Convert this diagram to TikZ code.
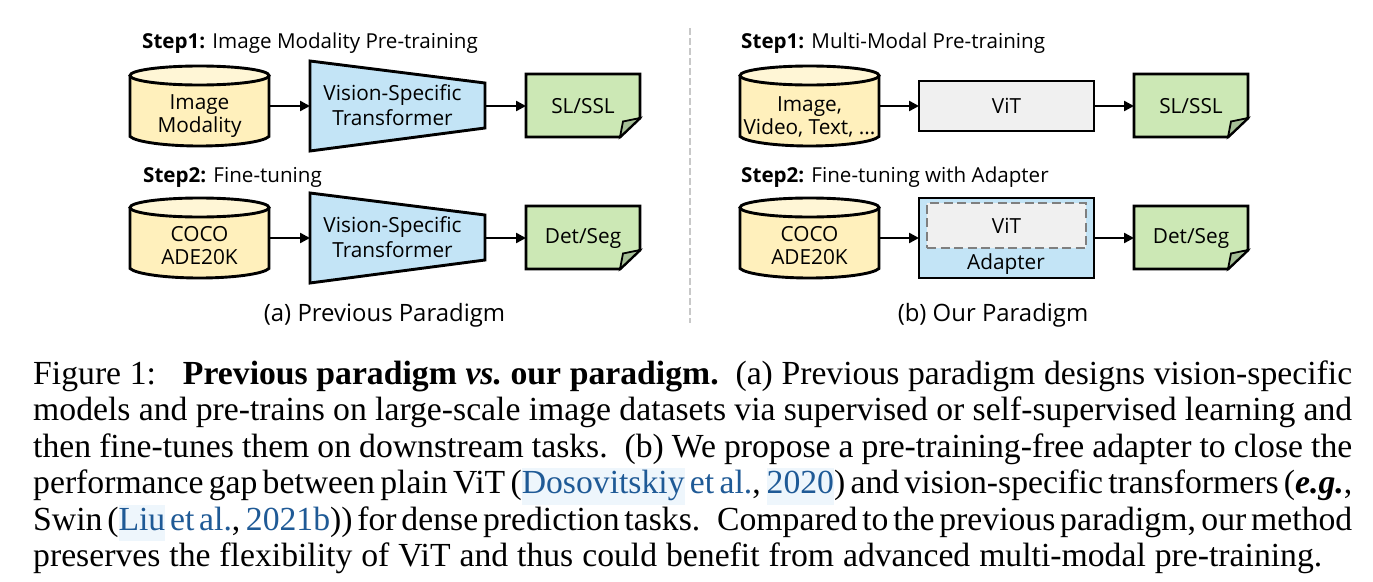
\documentclass[tikz,border=0pt]{standalone}
\usepackage{fontspec}
\setmainfont{Liberation Serif}
\newfontfamily\diag{Open Sans}
\usetikzlibrary{arrows.meta}
\definecolor{cyl}{HTML}{FFF0BC}
\definecolor{cyltop}{HTML}{FFF6D6}
\definecolor{tf}{HTML}{C3E4F6}
\definecolor{nt}{HTML}{CCE8B5}
\definecolor{fold}{HTML}{A5BF96}
\definecolor{vit}{HTML}{F0F0F0}
\definecolor{dash}{HTML}{7F7F7F}
\definecolor{divi}{HTML}{C8C8C8}
\definecolor{cite}{HTML}{1F5A96}
\definecolor{citebg}{HTML}{EEF6FC}
\newcommand{\lnk}[1]{{\setlength{\fboxsep}{0pt}\colorbox{citebg}{\textcolor{cite}{\strut #1}}}}
\newcommand{\lnkp}[1]{\textcolor{cite}{#1}}
\newcommand{\capline}[1]{\hbox to 1319pt{\spaceskip=.25em plus .4em minus .15em\relax #1}}
\newcommand{\capfree}[1]{\hbox to 1289pt{\spaceskip=.25em plus .4em minus .15em\relax #1}}
\newcommand{\cylshape}[5]{% name, left x, top y, text, text shift
  \path[draw=black,line width=2.9pt,fill=cyl] (#2,#3+9.5) -- (#2,#3+70.5)
    .. controls (#2+6,#3+76) and (#2+36,#3+80) .. (#2+69.5,#3+80)
    .. controls (#2+103,#3+80) and (#2+133,#3+76) .. (#2+139,#3+70.5) -- (#2+139,#3+9.5);
  \path[draw=black,line width=2.9pt,fill=cyltop] (#2+69.5,#3+9.5) ellipse [x radius=69.5,y radius=9.5];
  \node[lbl,align=center,minimum width=139pt,minimum height=80pt,anchor=north west] (#1) at (#2,#3) {\raisebox{#5}[0pt][0pt]{\begin{tabular}{@{}c@{}}#4\end{tabular}}};}
\newcommand{\noteshape}[4]{% name, left x, top y, text
  \path[draw=black,line width=2.9pt,fill=nt] (#2,#3) -- (#2+114,#3) -- (#2+114,#3+44) -- (#2+94,#3+63) -- (#2,#3+63) -- cycle;
  \path[draw=black,line width=1.8pt,fill=fold] (#2+114,#3+44) -- (#2+97,#3+47.5) -- (#2+94,#3+63) -- cycle;
  \node[lbl,minimum width=114pt,minimum height=64pt,anchor=north west] (#1) at (#2,#3) {#4};}
\newcommand{\trap}[3]{% name, left x, top y
  \path[draw=black,line width=2.9pt,fill=tf] (#2,#3) -- (#2+175,#3+22) -- (#2+175,#3+67) -- (#2,#3+90) -- cycle;
  \node[lbl,align=center,minimum width=175pt,minimum height=90pt,anchor=north west] (#1) at (#2,#3) {\hspace{-10pt}\raisebox{-7.5pt}[0pt][0pt]{\begin{tabular}{@{}c@{}}Vision-Specific\\[1pt]Transformer\end{tabular}}};}
\tikzset{
  x=1pt,y=-1pt,
  lbl/.style={font=\diag\fontsize{20.8pt}{24pt}\selectfont,inner sep=0pt,outer sep=0pt},
  head/.style={font=\diag\fontsize{20.6pt}{24pt}\selectfont,inner sep=0pt,anchor=base west},
  conn/.style={draw=black,line width=2.4pt,-{Triangle[length=10pt,width=10pt]}},
  sub/.style={font=\diag\fontsize{23.9pt}{26pt}\selectfont,inner sep=0pt,anchor=base},
}
\begin{document}
\begin{tikzpicture}
\useasboundingbox (0,0) rectangle (1373,581);
\fill[white] (0,0) rectangle (1373,581);
% (a) left column
\node[head] (h1) at (142,48) {\textbf{Step1:} Image Modality Pre-training};
\node[head] (h2) at (143,182) {\textbf{Step2:} Fine-tuning};
\cylshape{c1}{130}{66}{Image\\[-1pt]Modality}{-15pt}
\trap{t1}{310}{61}
\noteshape{n1}{526}{74}{SL/SSL}
\cylshape{c2}{130}{198}{COCO\\[-1pt]ADE20K}{-15.5pt}
\trap{t2}{310}{193}
\noteshape{n2}{526}{206}{Det/Seg}
\draw[conn] (c1.east) -- (t1.west);
\draw[conn] (t1.east) -- (n1.west);
\draw[conn] (c2.east) -- (t2.west);
\draw[conn] (t2.east) -- (n2.west);
\node[sub] (s1) at (384.5,321) {(a) Previous Paradigm};
% divider
\coordinate (d1) at (690,28);
\coordinate (d2) at (690,323);
\draw[divi,line width=2.6pt,dash pattern=on 7pt off 3pt] (d1) -- (d2);
% (b) right column
\node[head] (h3) at (741,48) {\textbf{Step1:} Multi-Modal Pre-training};
\node[head] (h4) at (741,182) {\textbf{Step2:} Fine-tuning with Adapter};
\cylshape{c3}{740}{66}{Image,\\[-1pt]Video, Text, ...}{-17pt}
\node[lbl,draw=black,line width=2.9pt,fill=vit,minimum width=175pt,minimum height=50pt,anchor=north west] (v1) at (919,81) {ViT};
\noteshape{n3}{1134}{74}{SL/SSL}
\cylshape{c4}{740}{198}{COCO\\[-1pt]ADE20K}{-15.5pt}
\node[draw=black,line width=2.9pt,fill=tf,minimum width=175pt,minimum height=80pt,inner sep=0pt,outer sep=0pt,anchor=north west] (a1) at (919,198) {};
\node[lbl,draw=dash,line width=2.9pt,fill=vit,dash pattern=on 9pt off 4.5pt,minimum width=159pt,minimum height=45pt,anchor=north west] (v2) at (927,203) {ViT};
\node[lbl,anchor=base] (a2) at (1006,269) {Adapter};
\noteshape{n4}{1134}{206}{Det/Seg}
\draw[conn] (c3.east) -- (v1.west);
\draw[conn] (v1.east) -- (n3.west);
\draw[conn] (c4.east) -- (a1.west);
\draw[conn] (a1.east) -- (n4.west);
\node[sub] (s2) at (993,321) {(b) Our Paradigm};
% caption
\node[anchor=north west,inner sep=0pt,text width=1319pt,align=left,font=\fontsize{33.7pt}{36.5pt}\selectfont] (cap) at (33,360.5)
{\capline{Figure 1:\hspace{0.3em} \textbf{Previous paradigm \textit{vs.}\ our paradigm.} (a) Previous paradigm designs vision-specific}
\capline{models and pre-trains on large-scale image datasets via supervised or self-supervised learning and}
\capline{then fine-tunes them on downstream tasks. (b) We propose a pre-training-free adapter to close the}
\capline{performance gap between plain ViT (\lnk{Dosovitskiy} \lnkp{et al.}, \lnk{2020}) and vision-specific transformers (\textbf{\textit{e.g.}},}
\capline{Swin (\lnk{Liu} \lnkp{et al.}, \lnkp{2021b})) for dense prediction tasks. Compared to the previous paradigm, our method}
\capfree{preserves the flexibility of ViT and thus could benefit from advanced multi-modal pre-training.}};
\end{tikzpicture}
\end{document}
